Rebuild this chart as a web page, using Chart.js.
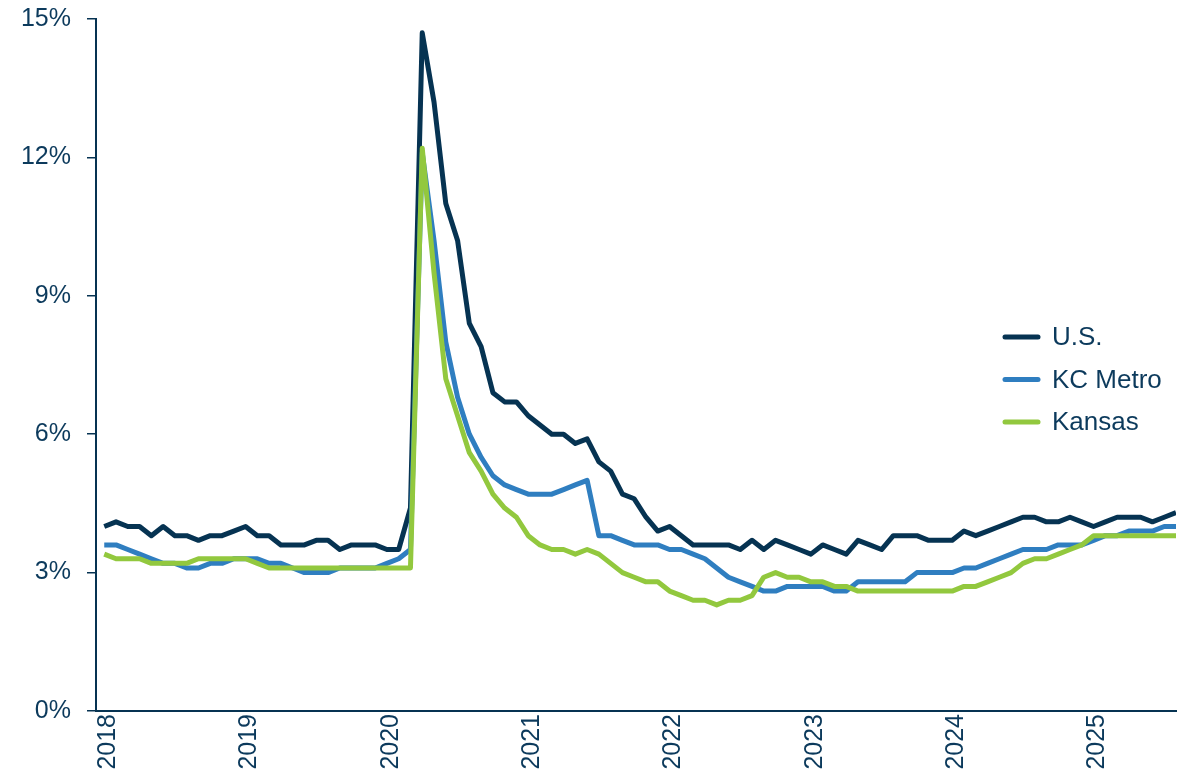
<!DOCTYPE html>
<html>
<head>
<meta charset="utf-8">
<title>Unemployment rate</title>
<script src="https://cdn.jsdelivr.net/npm/chart.js@4/dist/chart.umd.min.js"></script>
<style>
  html, body { margin: 0; padding: 0; background: #ffffff; }
  #wrap { width: 1186px; height: 780px; position: relative; }
</style>
</head>
<body>
<div id="wrap"><canvas id="rateChart"></canvas></div>
<script>
// monthly unemployment rate, Jan 2018 - Aug 2025
const years = [2018, 2019, 2020, 2021, 2022, 2023, 2024, 2025];

const usRate = [
  4.0, 4.1, 4.0, 4.0, 3.8, 4.0, 3.8, 3.8, 3.7, 3.8, 3.8, 3.9,
  4.0, 3.8, 3.8, 3.6, 3.6, 3.6, 3.7, 3.7, 3.5, 3.6, 3.6, 3.6,
  3.5, 3.5, 4.4, 14.7, 13.2, 11.0, 10.2, 8.4, 7.9, 6.9, 6.7, 6.7,
  6.4, 6.2, 6.0, 6.0, 5.8, 5.9, 5.4, 5.2, 4.7, 4.6, 4.2, 3.9,
  4.0, 3.8, 3.6, 3.6, 3.6, 3.6, 3.5, 3.7, 3.5, 3.7, 3.6, 3.5,
  3.4, 3.6, 3.5, 3.4, 3.7, 3.6, 3.5, 3.8, 3.8, 3.8, 3.7, 3.7,
  3.7, 3.9, 3.8, 3.9, 4.0, 4.1, 4.2, 4.2, 4.1, 4.1, 4.2, 4.1,
  4.0, 4.1, 4.2, 4.2, 4.2, 4.1, 4.2, 4.3
];

const kcMetroRate = [
  3.6, 3.6, 3.5, 3.4, 3.3, 3.2, 3.2, 3.1, 3.1, 3.2, 3.2, 3.3,
  3.3, 3.3, 3.2, 3.2, 3.1, 3.0, 3.0, 3.0, 3.1, 3.1, 3.1, 3.1,
  3.2, 3.3, 3.5, 12.1, 10.2, 8.0, 6.8, 6.0, 5.5, 5.1, 4.9, 4.8,
  4.7, 4.7, 4.7, 4.8, 4.9, 5.0, 3.8, 3.8, 3.7, 3.6, 3.6, 3.6,
  3.5, 3.5, 3.4, 3.3, 3.1, 2.9, 2.8, 2.7, 2.6, 2.6, 2.7, 2.7,
  2.7, 2.7, 2.6, 2.6, 2.8, 2.8, 2.8, 2.8, 2.8, 3.0, 3.0, 3.0,
  3.0, 3.1, 3.1, 3.2, 3.3, 3.4, 3.5, 3.5, 3.5, 3.6, 3.6, 3.6,
  3.7, 3.8, 3.8, 3.9, 3.9, 3.9, 4.0, 4.0
];

const kansasRate = [
  3.4, 3.3, 3.3, 3.3, 3.2, 3.2, 3.2, 3.2, 3.3, 3.3, 3.3, 3.3,
  3.3, 3.2, 3.1, 3.1, 3.1, 3.1, 3.1, 3.1, 3.1, 3.1, 3.1, 3.1,
  3.1, 3.1, 3.1, 12.2, 9.5, 7.2, 6.4, 5.6, 5.2, 4.7, 4.4, 4.2,
  3.8, 3.6, 3.5, 3.5, 3.4, 3.5, 3.4, 3.2, 3.0, 2.9, 2.8, 2.8,
  2.6, 2.5, 2.4, 2.4, 2.3, 2.4, 2.4, 2.5, 2.9, 3.0, 2.9, 2.9,
  2.8, 2.8, 2.7, 2.7, 2.6, 2.6, 2.6, 2.6, 2.6, 2.6, 2.6, 2.6,
  2.6, 2.7, 2.7, 2.8, 2.9, 3.0, 3.2, 3.3, 3.3, 3.4, 3.5, 3.6,
  3.8, 3.8, 3.8, 3.8, 3.8, 3.8, 3.8, 3.8
];

const seriesNames = ['U.S.', 'KC Metro', 'Kansas'];
const yTicks = [0, 3, 6, 9, 12, 15];

const navy = '#063352';
const textColor = '#0C3A5C';
const fontFamily = '"Liberation Sans", Arial, sans-serif';

// months counted from Jan 2018 on a linear axis
const toPoints = arr => arr.map((v, i) => ({ x: i, y: v }));
const lastMonth = usRate.length - 1;

// legend drawn at the right, inside the plot
const sideLegend = {
  id: 'sideLegend',
  afterDraw(chart) {
    const ctx = chart.ctx;
    ctx.save();
    ctx.font = '26px ' + fontFamily;
    ctx.textBaseline = 'middle';
    ctx.textAlign = 'left';
    chart.data.datasets.forEach((ds, i) => {
      const y = 337 + i * 42.5;
      ctx.strokeStyle = ds.borderColor;
      ctx.lineWidth = 5;
      ctx.lineCap = 'round';
      ctx.beginPath();
      ctx.moveTo(1005, y);
      ctx.lineTo(1038, y);
      ctx.stroke();
      ctx.fillStyle = textColor;
      ctx.fillText(ds.label, 1052, y + 1);
    });
    ctx.restore();
  }
};

function makeLine(label, data, color, order) {
  return {
    label: label,
    data: toPoints(data),
    borderColor: color,
    backgroundColor: color,
    borderWidth: 5,
    pointRadius: 0,
    pointHoverRadius: 0,
    tension: 0,
    fill: false,
    borderJoinStyle: 'round',
    order: order
  };
}

const ctx = document.getElementById('rateChart').getContext('2d');
new Chart(ctx, {
  type: 'line',
  data: {
    datasets: [
      makeLine(seriesNames[0], usRate, navy, 2),
      makeLine(seriesNames[1], kcMetroRate, '#2F7EC0', 1),
      makeLine(seriesNames[2], kansasRate, '#92C83E', 0)
    ]
  },
  options: {
    responsive: true,
    maintainAspectRatio: false,
    animation: false,
    layout: {
      padding: { top: 19, right: 10, left: 0, bottom: 0 }
    },
    plugins: {
      legend: { display: false },
      tooltip: { enabled: false }
    },
    scales: {
      x: {
        type: 'linear',
        min: -0.7,
        max: lastMonth,
        afterBuildTicks(scale) {
          scale.ticks = years.map((yr, i) => ({ value: i * 12 }));
        },
        grid: { display: false, drawTicks: false },
        border: { display: true, color: navy, width: 2 },
        ticks: {
          autoSkip: false,
          minRotation: 90,
          maxRotation: 90,
          padding: 3,
          labelOffset: 4,
          color: textColor,
          font: { family: fontFamily, size: 25 },
          callback: v => String(years[Math.round(v / 12)])
        },
        afterFit(scale) {
          scale.height = 69;
          scale.paddingLeft = 0;
          scale.paddingRight = 0;
        }
      },
      y: {
        min: yTicks[0],
        max: yTicks[yTicks.length - 1],
        afterBuildTicks(scale) {
          scale.ticks = yTicks.map(v => ({ value: v }));
        },
        grid: {
          drawOnChartArea: false,
          drawTicks: true,
          tickLength: 9,
          color: navy,
          lineWidth: 1.5
        },
        border: { display: true, color: navy, width: 2 },
        ticks: {
          padding: 16,
          color: textColor,
          font: { family: fontFamily, size: 25 },
          callback: v => v + '%'
        },
        afterFit(scale) {
          scale.width = 96;
          scale.paddingTop = 0;
          scale.paddingBottom = 0;
        }
      }
    }
  },
  plugins: [sideLegend]
});
</script>
</body>
</html>
